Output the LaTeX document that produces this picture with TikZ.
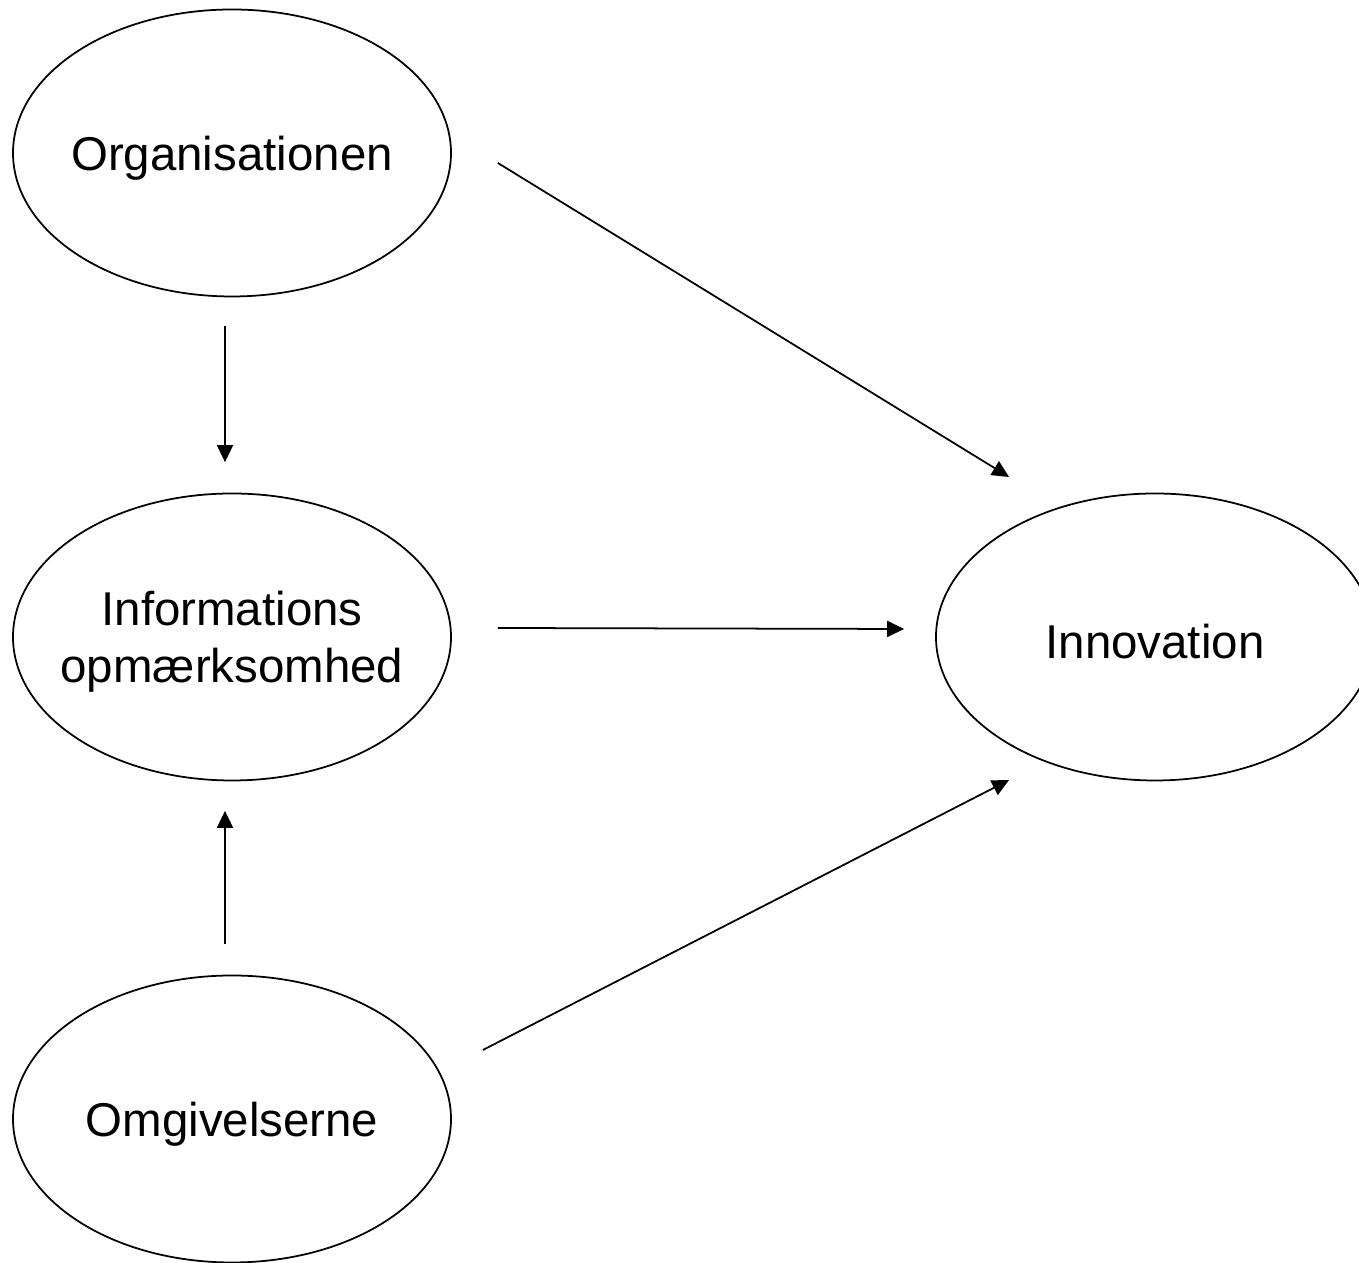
\documentclass[tikz,border=0pt]{standalone}
\usepackage{fontspec}
\setmainfont{Liberation Sans}
\usetikzlibrary{shapes.geometric, arrows.meta}

\begin{document}
\begin{tikzpicture}

            % Ramme for billedet
            \useasboundingbox (0,0) rectangle (27.18,25.26);
            \clip (0,0) rectangle (27.18,25.26);

            % Stil for ovaler, tekst og pile
            \tikzstyle{oval} = [ellipse, draw=black, line width=1pt, inner sep=0pt,
                                minimum width=8.76cm, minimum height=5.74cm]
            \tikzstyle{txt} = [align=center, yshift=-0.1cm, font=\fontsize{27}{32.4}\selectfont]
            \tikzstyle{pil} = [draw=black, line width=1pt, -{Triangle[length=0.34cm, width=0.32cm]}]

            % Organisationen
            \node[oval, label={[txt]center:Organisationen}] (org) at (4.64,22.20) {};

            % Informations opmaerksomhed
            \node[oval, label={[txt]center:{Informations\\opmærksomhed}}] (info) at (4.64,12.52) {};

            % Omgivelserne
            \node[oval, label={[txt]center:Omgivelserne}] (omg) at (4.64,2.88) {};

            % Innovation
            \node[oval, label={[txt]center:Innovation}] (inno) at (23.10,12.52) {};

            % Pile
            \draw[pil] ([shift={(0.92,-0.20)}]org.east) -- ([shift={(1.48,3.20)}]inno.west);
            \draw[pil] ([shift={(-0.14,-0.57)}]org.south) -- ([shift={(-0.14,0.61)}]info.north);
            \draw[pil] ([shift={(0.92,0.18)}]info.east) -- ([shift={(-0.62,0.16)}]inno.west);
            \draw[pil] ([shift={(-0.14,0.61)}]omg.north) -- ([shift={(-0.14,-0.59)}]info.south);
            \draw[pil] ([shift={(0.62,1.38)}]omg.east) -- ([shift={(1.48,-2.86)}]inno.west);

\end{tikzpicture}
\end{document}
